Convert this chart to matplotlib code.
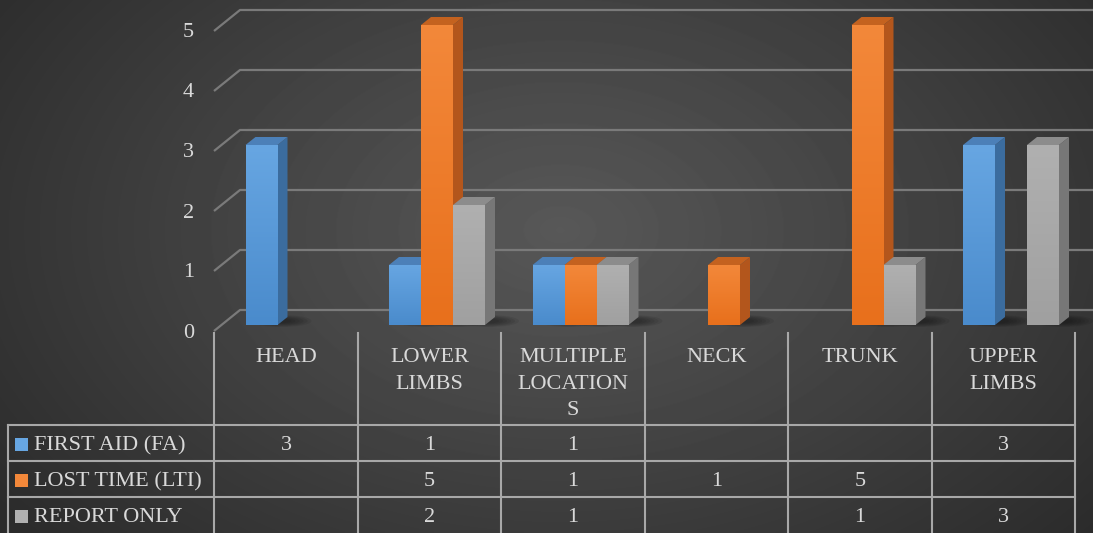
import numpy as np
import matplotlib.pyplot as plt
from matplotlib.patches import Polygon, Rectangle, Ellipse

# ─── Data ─────────────────────────────────────────────────────────────────────
categories = ["HEAD", "LOWER\nLIMBS", "MULTIPLE\nLOCATION\nS", "NECK", "TRUNK", "UPPER\nLIMBS"]
series_names = ["FIRST AID (FA)", "LOST TIME (LTI)", "REPORT ONLY"]
first_aid = [3, 1, 1, None, None, 3]
lost_time = [None, 5, 1, 1, 5, None]
report_only = [None, 2, 1, None, 1, 3]
y_ticks = [0, 1, 2, 3, 4, 5]

series = [first_aid, lost_time, report_only]
# front (top, bottom), side, top colours
palette = [("#67a6e2", "#4a8bcc", "#3b6c9e", "#4c80b8"),
           ("#f3883a", "#e8701c", "#b3561c", "#c4621f"),
           ("#b0b0b0", "#a0a0a0", "#777777", "#8c8c8c")]
TXT = "#d9d9d9"
GRID = "#7a7a7a"
LINE = "#a8a8a8"

plt.rcParams['font.family'] = ['Liberation Serif', 'DejaVu Serif']
plt.rcParams['font.size'] = 16

# ─── Figure / geometry ────────────────────────────────────────────────────────
W, H = 1093, 533
fig = plt.figure(figsize=(W / 100, H / 100), dpi=100)
ax = fig.add_axes([0, 0, 1, 1])

# category i centre at pixel X0 + DX*i, value v at pixel Y0 - DY*v (from top)
X0, DX, Y0, DY = 286, 143.5, 325, 60
xlim = (-X0 / DX, (W - X0) / DX)
ylim = ((Y0 - H) / DY, Y0 / DY)


def px(p):
    return (p - X0) / DX


def py(p):
    return (Y0 - p) / DY


# background: soft radial gradient
yy, xx = np.mgrid[0:H, 0:W]
r = np.sqrt(((xx - 560) / 620) ** 2 + ((yy - 230) / 410) ** 2)
bg = np.clip(0.345 - 0.155 * r, 0.17, 0.345)
ax.imshow(bg, cmap='gray', vmin=0, vmax=1, extent=(*xlim, *ylim),
          aspect='auto', zorder=0, interpolation='bilinear')

# ─── Back wall gridlines (3D look) ────────────────────────────────────────────
fx, bx = px(214), px(240)
f0, b0 = py(331), py(310)
for k in y_ticks:
    ax.plot([fx, bx, xlim[1]], [f0 + k, b0 + k, b0 + k], color=GRID, lw=1.6,
            zorder=1, solid_capstyle='butt')
    ax.text(px(194), f0 + k - 2 / DY, str(k), ha='right', va='center', color=TXT)

# ─── 3D bars ──────────────────────────────────────────────────────────────────
bar_w = 32 / DX
shift = 7.5 / DX
ddx, ddy = 10 / DX, 8 / DY
x = np.arange(len(categories))
grad = np.linspace(1, 0, 64).reshape(-1, 1)

for s, vals in enumerate(series):
    idx = [i for i, v in enumerate(vals) if v is not None]
    heights = [vals[i] for i in idx]
    xs = x[idx] + shift + (s - 1) * bar_w
    c_hi, c_lo, side, top = palette[s]
    bars = ax.bar(xs, heights, width=bar_w, color=c_lo, zorder=3 + 2 * s,
                  linewidth=0)
    cmap = plt.matplotlib.colors.LinearSegmentedColormap.from_list("g", [c_lo, c_hi])
    for b in bars:
        x0, x1, v = b.get_x(), b.get_x() + b.get_width(), b.get_height()
        im = ax.imshow(grad, cmap=cmap, extent=(x0, x1, 0, v), aspect='auto',
                       zorder=3 + 2 * s + 0.5, interpolation='bilinear')
        im.set_clip_path(b)
        ax.add_patch(Polygon([(x1, 0), (x1 + ddx, ddy), (x1 + ddx, v + ddy), (x1, v)],
                             closed=True, color=side, lw=0, zorder=2 + 2 * s))
        ax.add_patch(Polygon([(x0, v), (x0 + ddx, v + ddy), (x1 + ddx, v + ddy), (x1, v)],
                             closed=True, color=top, lw=0, zorder=2 + 2 * s))
        # soft floor shadow
        for k in range(6):
            ax.add_patch(Ellipse((x1 + 4 / DX, ddy * 0.5), (60 - 8 * k) / DX,
                                 (12 - 1.5 * k) / DY, color='black', alpha=0.07,
                                 lw=0, zorder=1.5))

# ─── Data table ───────────────────────────────────────────────────────────────
for j in range(len(categories) + 1):
    ax.plot([j - 0.5, j - 0.5], [py(333), ylim[0]], color=LINE, lw=1.5, zorder=2)
ax.plot([px(8), px(8)], [py(425), ylim[0]], color=LINE, lw=1.5, zorder=2)
for row_px in (425, 461, 497):
    ax.plot([px(8), len(categories) - 0.5], [py(row_px), py(row_px)],
            color=LINE, lw=1.5, zorder=2)

for i, cat in enumerate(categories):
    ax.text(i, py(348), cat, ha='center', va='top', color=TXT, linespacing=1.55)

for s, (name, vals) in enumerate(zip(series_names, series)):
    yc = py(444 + 36 * s)
    yt = py(446 + 36 * s)
    ax.add_patch(Rectangle((px(15), yc - 6.5 / DY), 13 / DX, 13 / DY,
                           color=palette[s][0], lw=0, zorder=3))
    ax.text(px(34), yt, name, ha='left', va='center', color=TXT)
    for i, v in enumerate(vals):
        if v is not None:
            ax.text(i, yt, str(v), ha='center', va='center', color=TXT)

ax.set_xlim(*xlim)
ax.set_ylim(*ylim)
ax.axis('off')

fig.savefig("out.png", dpi=100)
